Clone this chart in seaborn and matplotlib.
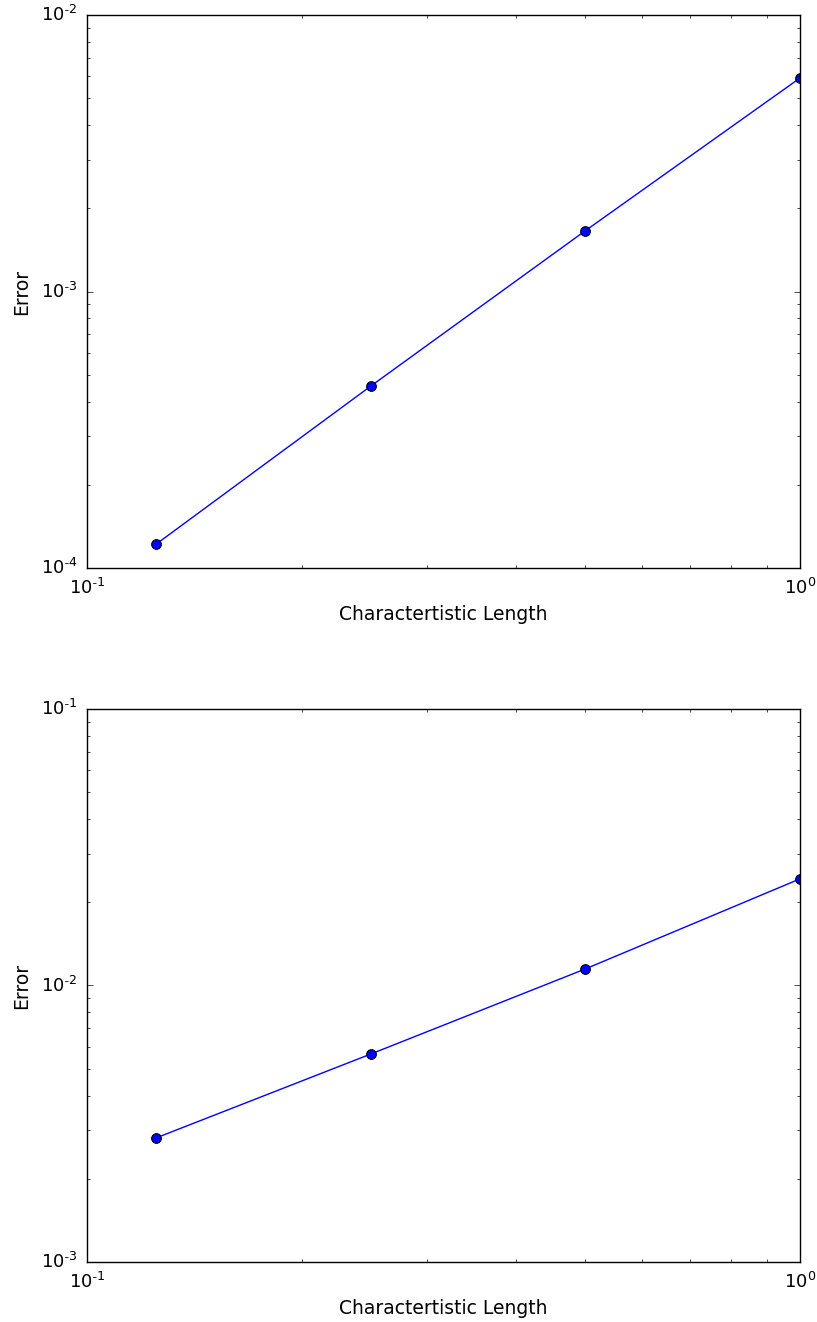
import numpy as np
import pandas as pd
import matplotlib
matplotlib.use('Agg')
import matplotlib.pyplot as plt
import seaborn as sns
from matplotlib.ticker import FuncFormatter
plt.style.use('classic')

# characteristic length (mesh size) and errors
h = [0.125, 0.25, 0.5, 1.0]
err_top = [1.22e-4, 4.55e-4, 1.66e-3, 5.92e-3]
err_bottom = [2.81e-3, 5.65e-3, 1.148e-2, 2.43e-2]

xlabel = "Charactertistic Length"
ylabel = "Error"


def sci(v, pos):
    e = int(round(np.log10(v)))
    if e < 0:
        return r'$\mathdefault{10^{\text{-}%d}}$' % (-e)
    return r'$\mathdefault{10^{%d}}$' % e


fig = plt.figure(figsize=(8.17, 13.22), dpi=100)
fig.patch.set_facecolor('white')
ax1 = fig.add_axes([0.1065, 0.5703, 0.8727, 0.4183])
ax2 = fig.add_axes([0.1065, 0.0454, 0.8727, 0.4183])

for ax, err, ylim in [(ax1, err_top, (1e-4, 1e-2)), (ax2, err_bottom, (1e-3, 1e-1))]:
    df = pd.DataFrame({'h': h, 'err': err})
    sns.lineplot(data=df, x='h', y='err', ax=ax, color='blue', marker='o',
                 markersize=7, markerfacecolor='blue', markeredgecolor='black',
                 linewidth=1)
    ax.set_xscale('log')
    ax.set_yscale('log')
    ax.set_xlim(0.1, 1.0)
    ax.set_ylim(*ylim)
    ax.xaxis.set_major_formatter(FuncFormatter(sci))
    ax.yaxis.set_major_formatter(FuncFormatter(sci))
    ax.tick_params(labelsize=13, pad=7)
    ax.set_xlabel(xlabel, fontsize=13.5, labelpad=5)
    ax.set_ylabel(ylabel, fontsize=13.5, labelpad=7)

fig.savefig('out.png', dpi=100, facecolor='white')
